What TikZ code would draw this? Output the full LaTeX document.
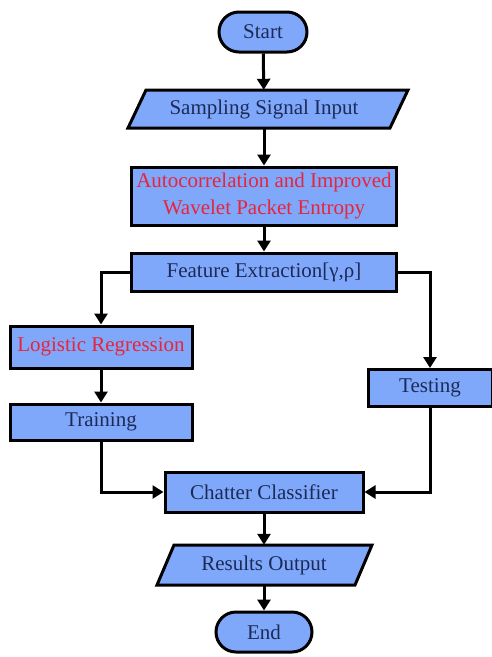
\documentclass[tikz,border=0pt]{standalone}
\usepackage{fontspec}
\setmainfont{Liberation Serif}
\usetikzlibrary{arrows.meta}
\definecolor{boxfill}{RGB}{128,168,250}
\definecolor{navy}{RGB}{28,42,88}
\definecolor{redtxt}{RGB}{232,36,60}
\begin{document}
\begin{tikzpicture}[x=1pt,y=-1pt,
  txt/.style={font=\fontsize{21}{27}\selectfont, text=navy, align=center, inner sep=0pt},
  procbox/.style={txt, draw, line width=3pt, fill=boxfill},
  term/.style={procbox, rounded corners=20pt},
  iobox/.style={txt},
  redtext/.style={text=redtxt},
  conn/.style={line width=3pt, -{Triangle[width=13pt,length=11pt]}},
  iodraw/.style={draw, line width=3pt, fill=boxfill, line join=miter}
]
\useasboundingbox (0,0) rectangle (491,657);

% terminals
\node[term, minimum width=88pt, minimum height=40pt] (start) at (263,32) {Start};
\node[term, minimum width=96pt, minimum height=40pt] (end) at (264,632) {End};

% input parallelogram
\path[iodraw] (128,128) -- (146,90) -- (408,90) -- (390,128) -- cycle;
\node[iobox, minimum width=262pt, minimum height=38pt] (sample) at (264,109) {Sampling Signal Input};

% process boxes
\node[procbox, redtext, minimum width=265pt, minimum height=58pt] (auto) at (264,196)
  {Autocorrelation and Improved\\Wavelet Packet Entropy};
\node[procbox, minimum width=265pt, minimum height=38pt] (feature) at (264,272)
  {Feature Extraction[γ,ρ]};
\node[procbox, redtext, minimum width=182pt, minimum height=42pt] (logistic) at (101,347)
  {Logistic Regression};
\node[procbox, minimum width=182pt, minimum height=36pt] (training) at (101,422) {Training};
\node[procbox, minimum width=124pt, minimum height=37pt] (testing) at (430,388) {Testing};
\node[procbox, minimum width=198pt, minimum height=40pt] (chatter) at (264,492) {Chatter Classifier};

% output parallelogram
\path[iodraw] (157,585) -- (174,545) -- (372,545) -- (355,585) -- cycle;
\node[iobox, minimum width=198pt, minimum height=40pt] (results) at (264,565) {Results Output};

% connectors
\draw[conn] (start) -- (sample);
\draw[conn] (sample.south) -- (auto.north);
\draw[conn] (auto) -- (feature);
\draw[conn] (feature.west) -| (logistic.north);
\draw[conn] (feature.east) -| (testing.north);
\draw[conn] (logistic) -- (training);
\draw[conn] (training.south) |- (chatter.west);
\draw[conn] (testing.south) |- (chatter.east);
\draw[conn] (chatter) -- (results.north);
\draw[conn] (results.south) -- (end);
\end{tikzpicture}
\end{document}
